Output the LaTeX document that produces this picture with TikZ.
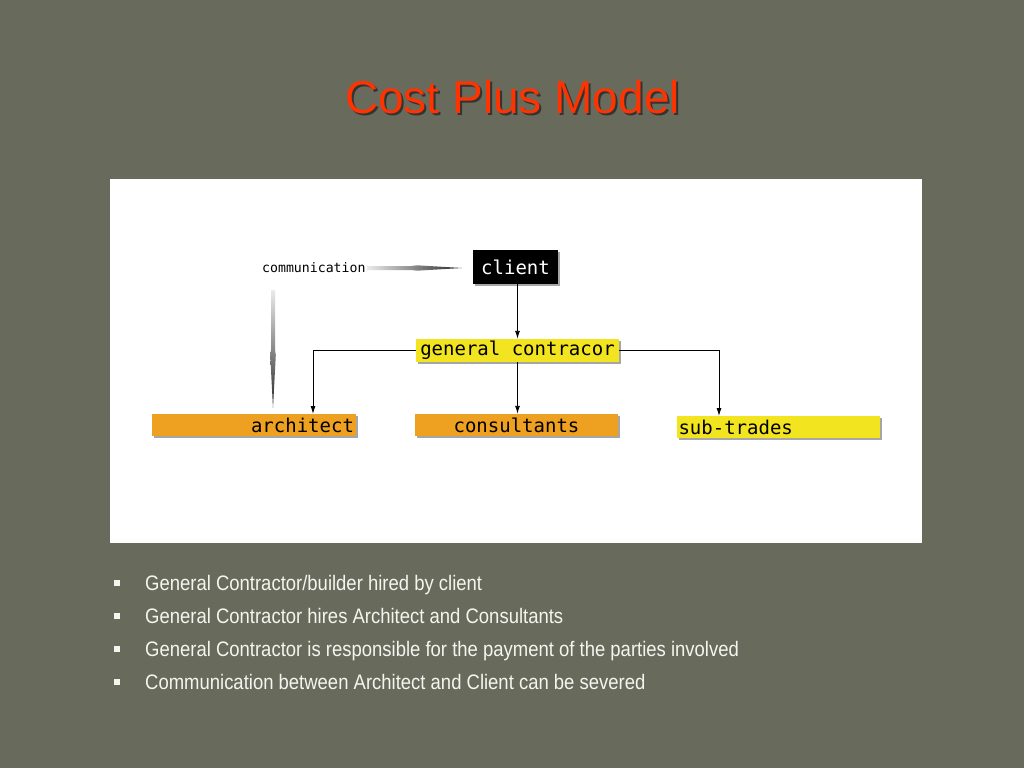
\documentclass[tikz,border=0pt]{standalone}
\usepackage{fontspec}
\usetikzlibrary{arrows.meta}
\setmainfont{Liberation Sans}
\newfontfamily\monofnt{DejaVu Sans Mono}
\newfontfamily\narrowfnt[FakeStretch=0.88]{Liberation Sans}
\definecolor{bgcol}{RGB}{104,106,92}
\definecolor{titlered}{RGB}{255,51,0}
\definecolor{gcyellow}{RGB}{242,228,30}
\definecolor{orng}{RGB}{238,160,32}
\definecolor{bullettext}{RGB}{245,245,240}
\begin{document}
\begin{tikzpicture}[x=1pt,y=-1pt,
  box/.style={inner sep=0pt, minimum height=#1, font=\monofnt\fontsize{19}{19}\selectfont},
  shadowbox/.style={fill=black!35},
  conn/.style={draw=black, line width=0.9pt, -{Latex[length=8pt,width=5pt]}},
  bullettxt/.style={anchor=base west, inner sep=0pt, text=bullettext, font=\narrowfnt\fontsize{21}{21}\selectfont},
  bulletsq/.style={fill=bullettext, minimum size=6pt, inner sep=0pt}
]
\useasboundingbox (0,0) rectangle (1024,768);
\fill[bgcol] (0,0) rectangle (1024,768);

% title (with drop shadow in the same text)
\node[anchor=base, text=titlered, font=\fontsize{46}{46}\selectfont, inner sep=0pt] (title) at (512.5,113)
  {\makebox[0pt][l]{\kern2pt\raisebox{-2.5pt}{\textcolor{black!80}{Cost Plus Model}}}Cost Plus Model};

% white panel
\fill[white] (110,179) rectangle (922,543);

% shadows
\fill[shadowbox] (475,252) rectangle (560,286);
\fill[shadowbox] (418,341) rectangle (621,364);
\fill[shadowbox] (154,416) rectangle (358,438);
\fill[shadowbox] (417,416) rectangle (620,438);
\fill[shadowbox] (679,418) rectangle (882,440);

% boxes
\node[box=34pt, minimum width=85pt, fill=black, text=white] (client) at (515.5,267) {client};
\node[box=23pt, minimum width=203pt, fill=gcyellow, text=black] (gc) at (517.5,350.5) {general contracor};
\node[box=22pt, minimum width=204pt, fill=orng, text=black, text width=200pt, align=right] (arch) at (254,425) {architect};
\node[box=22pt, minimum width=203pt, fill=orng, text=black] (cons) at (516.5,425) {consultants};
\node[box=22pt, minimum width=203pt, fill=gcyellow, text=black, text width=200pt, align=left] (sub) at (778.5,427) {sub-trades};

\node[inner sep=0pt, font=\monofnt\fontsize{13.2}{13.2}\selectfont, anchor=west] (comm) at (262,268) {communication};

% connectors
\coordinate (archtop) at (313,414);
\coordinate (subtop) at (719,416);
\draw[conn] (client.south -| gc.north) -- (gc.north);
\draw[conn] (gc.south) -- (gc.south |- cons.north);
\draw[conn] (gc.west) -| (archtop);
\draw[conn] (gc.east) -| (subtop);

% gradient arrows
\shade[left color=black!8, right color=black!85]
  (367,266) -- (411,266) -- (417,265.3) -- (462,268) -- (417,270.7) -- (411,270) -- (367,270) -- cycle;
\shade[top color=black!8, bottom color=black!85]
  (271,290) -- (275,290) -- (275,350) -- (275.8,355) -- (273,408) -- (270.2,355) -- (271,350) -- cycle;

% bullets
\foreach \yy/\txt [count=\i] in {590/{General Contractor/builder hired by client},
  623/{General Contractor hires Architect and Consultants},
  656/{General Contractor is responsible for the payment of the parties involved},
  689/{Communication between Architect and Client can be severed}} {
  \node[bulletsq] (sq\i) at (117,\yy-7) {};
  \node[bullettxt] (bt\i) at (145,\yy) {\txt};
}
\end{tikzpicture}
\end{document}
